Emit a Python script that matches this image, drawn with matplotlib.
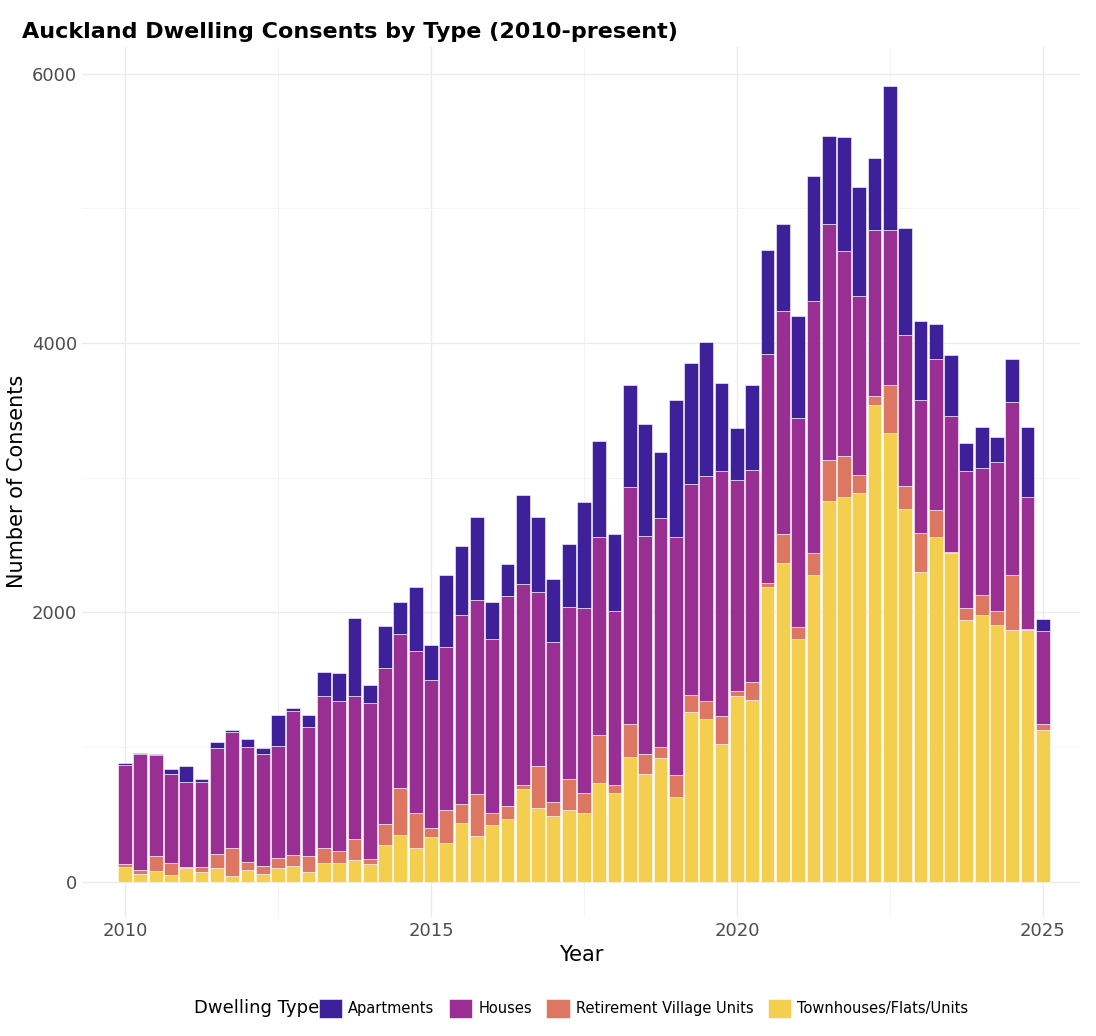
import matplotlib
matplotlib.use("Agg")
import matplotlib.pyplot as plt
import numpy as np

YEARS = [2010 + q * 0.25 for q in range(61)]

TOWNHOUSES = [110, 60, 80, 50, 100, 70, 100, 40, 90, 60, 100, 120, 70, 140, 140, 160, 130, 270, 350, 250,
              330, 290, 440, 340, 420, 470, 690, 550, 490, 530, 510, 730, 660, 930, 800, 920, 630, 1260, 1210, 1020,
              1380, 1350, 2190, 2370, 1800, 2280, 2830, 2860, 2890, 3540, 3330, 2770, 2300, 2560, 2440, 1940, 1980, 1910, 1870, 1870,
              1130]
RETIREMENT = [20, 30, 110, 90, 10, 40, 110, 210, 60, 60, 80, 80, 120, 110, 90, 160, 40, 160, 350, 260,
              70, 240, 140, 310, 90, 90, 30, 310, 100, 230, 150, 360, 60, 240, 150, 80, 160, 130, 130, 210,
              40, 130, 30, 210, 90, 160, 300, 300, 130, 70, 360, 170, 290, 200, 10, 90, 150, 100, 410, 10,
              40]
HOUSES = [740, 860, 750, 660, 630, 630, 780, 860, 850, 830, 830, 1070, 960, 1130, 1110, 1060, 1160, 1160, 1140, 1200,
          1100, 1210, 1400, 1440, 1290, 1560, 1490, 1290, 1190, 1280, 1370, 1470, 1290, 1760, 1620, 1700, 1770, 1560, 1670, 1820,
          1560, 1580, 1700, 1660, 1550, 1870, 1750, 1520, 1330, 1230, 1150, 1120, 990, 1120, 1010, 1020, 940, 1110, 1280, 980,
          690]
APARTMENTS = [10, 10, 10, 40, 120, 20, 50, 20, 60, 40, 230, 20, 90, 180, 210, 580, 130, 310, 240, 480,
              260, 540, 510, 620, 280, 240, 660, 560, 470, 470, 790, 710, 570, 760, 830, 490, 1020, 900, 1000, 650,
              390, 630, 770, 640, 760, 930, 660, 850, 810, 530, 1070, 790, 580, 260, 450, 210, 310, 180, 320, 520,
              90]

# stacking order bottom -> top
SERIES = [
    ("Townhouses/Flats/Units", TOWNHOUSES, "#F4CF4F"),
    ("Retirement Village Units", RETIREMENT, "#DD7762"),
    ("Houses", HOUSES, "#9A2F93"),
    ("Apartments", APARTMENTS, "#3E209B"),
]

fig, ax = plt.subplots(figsize=(10.96, 10.36), dpi=100)
bottom = np.zeros(len(YEARS))
handles = {}
for name, vals, color in SERIES:
    bars = ax.bar(YEARS, vals, width=0.225, bottom=bottom, color=color,
                  edgecolor="white", linewidth=0.4, label=name)
    handles[name] = bars
    bottom += np.array(vals)

ax.set_xlim(2009.3, 2025.6)
ax.set_ylim(-260, 6200)
ax.set_xticks([2010, 2015, 2020, 2025])
ax.set_yticks([0, 2000, 4000, 6000])
ax.set_yticks([1000, 3000, 5000], minor=True)
ax.set_xticks([2012.5, 2017.5, 2022.5], minor=True)
ax.grid(True, which="major", color="#EBEBEB", linewidth=1.0)
ax.grid(True, which="minor", color="#F3F3F3", linewidth=0.6)
ax.set_axisbelow(True)
for s in ax.spines.values():
    s.set_visible(False)
ax.tick_params(which="both", length=0, labelsize=13, labelcolor="#4D4D4D")
ax.set_xlabel("Year", fontsize=15)
ax.set_ylabel("Number of Consents", fontsize=15)
ax.set_title("Auckland Dwelling Consents by Type (2010-present)", fontsize=16,
             fontweight="bold", loc="left", x=-0.06)

order = ["Apartments", "Houses", "Retirement Village Units", "Townhouses/Flats/Units"]
fig.legend([handles[n] for n in order], order, loc="lower center", ncol=4,
           frameon=False, title="Dwelling Type", fontsize=10.5, title_fontsize=13,
           bbox_to_anchor=(0.53, 0.005), alignment="left",
           handlelength=1.6, handleheight=1.6, columnspacing=1.0, handletextpad=0.4)
leg = fig.legends[0]
leg._legend_box.align = "left"
leg._legend_box.sep = 0
# put the title to the left of the entries
from matplotlib.offsetbox import HPacker
box = leg._legend_box
box.__class__ = HPacker
box.align = "center"

fig.subplots_adjust(left=0.075, right=0.985, top=0.955, bottom=0.115)
fig.savefig("out.png", dpi=100)
